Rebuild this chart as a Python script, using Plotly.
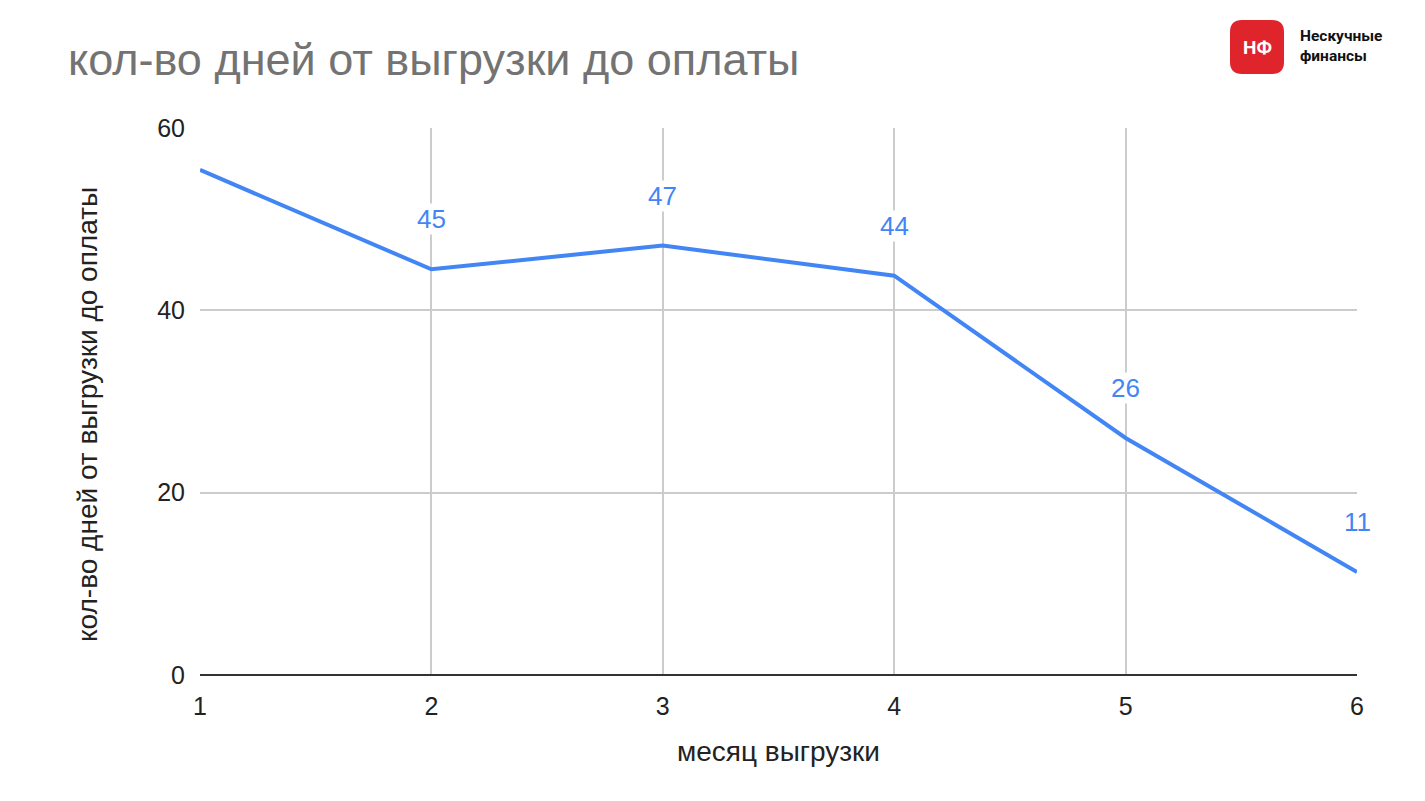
import plotly.graph_objects as go

months = [1, 2, 3, 4, 5, 6]
days = [55.4, 44.5, 47.1, 43.8, 26.0, 11.3]
labels = ["", "45", "47", "44", "26", "11"]
y_ticks = [0, 20, 40, 60]

title = "кол-во дней от выгрузки до оплаты"
x_title = "месяц выгрузки"
y_title = "кол-во дней от выгрузки до оплаты"

OFF = 8  # default page body margin
W, H = 1417, 793
PL, PR, PT, PB = 200, 1357, 128, 675  # plot area in page pixels
L, T = PL - OFF, PT - OFF
R, B = W - (PR - OFF), H - (PB - OFF)
PW, PH = PR - PL, PB - PT

def px(x):
    return (x - PL) / PW

def py(y):
    return 1 - (y - PT) / PH

fig = go.Figure()
fig.add_trace(go.Scatter(
    x=months, y=days, mode="lines",
    line=dict(color="#4285F4", width=4),
    hoverinfo="skip", showlegend=False,
))

for m, d, t in zip(months, days, labels):
    if t:
        fig.add_annotation(
            x=m, y=d, text=t, showarrow=False, yshift=50,
            font=dict(family="Liberation Sans, Arial, sans-serif", size=26, color="#4285F4"),
            bgcolor="white", borderpad=0,
        )

# logo
x0, x1, y0, y1 = 1230, 1284, 20, 74
r = 12
path = (f"M {px(x0+r)} {py(y0)} L {px(x1-r)} {py(y0)} Q {px(x1)} {py(y0)} {px(x1)} {py(y0+r)} "
        f"L {px(x1)} {py(y1-r)} Q {px(x1)} {py(y1)} {px(x1-r)} {py(y1)} "
        f"L {px(x0+r)} {py(y1)} Q {px(x0)} {py(y1)} {px(x0)} {py(y1-r)} "
        f"L {px(x0)} {py(y0+r)} Q {px(x0)} {py(y0)} {px(x0+r)} {py(y0)} Z")
fig.add_shape(type="path", path=path, xref="paper", yref="paper",
              fillcolor="#E0242B", line=dict(width=0), layer="above")
fig.add_annotation(x=px(1257), y=py(47), xref="paper", yref="paper", text="<b>НФ</b>",
                   xanchor="center", yanchor="middle",
                   showarrow=False, font=dict(family="Roboto, Arial, sans-serif", size=19, color="white"))
fig.add_annotation(x=px(1298), y=py(46), xref="paper", yref="paper", xanchor="left", yanchor="middle",
                   text="<b>Нескучные<br>финансы</b>", align="left",
                   showarrow=False, font=dict(family="Roboto, Arial, sans-serif", size=15.5, color="#111"))

fig.add_annotation(x=px(66), y=py(60), xref="paper", yref="paper", xanchor="left", yanchor="middle",
                   text=title, showarrow=False,
                   font=dict(family="Liberation Sans, Arial, sans-serif", size=45, color="#737373"))

# y axis title as rotated annotation
fig.add_annotation(x=px(87), y=py(415), xref="paper", yref="paper", xanchor="center", yanchor="middle",
                   text=y_title, textangle=-90, showarrow=False,
                   font=dict(family="Liberation Sans, Arial, sans-serif", size=28, color="#222"))

fig.update_layout(
    width=W, height=H,
    margin=dict(l=L, r=R, t=T, b=B, autoexpand=False),
    paper_bgcolor="white", plot_bgcolor="white",
    font=dict(family="Liberation Sans, Arial, sans-serif", color="#222"),
)
fig.update_xaxes(
    range=[1, 6], tickvals=months, ticktext=[str(m) for m in months],
    showgrid=True, gridcolor="#CCCCCC", gridwidth=2,
    zeroline=False, showline=False, ticks="", ticklabelstandoff=14,
    tickfont=dict(size=25, color="#222"),
    title=dict(text=x_title, font=dict(size=28, color="#222"), standoff=22),
)
fig.update_yaxes(
    range=[0, 60], tickvals=y_ticks,
    showgrid=True, gridcolor="#CCCCCC", gridwidth=2,
    zeroline=True, zerolinecolor="#333333", zerolinewidth=2,
    showline=False, ticks="", ticklabelstandoff=14,
    tickfont=dict(size=25, color="#222"),
)

fig.write_html("out.html")
